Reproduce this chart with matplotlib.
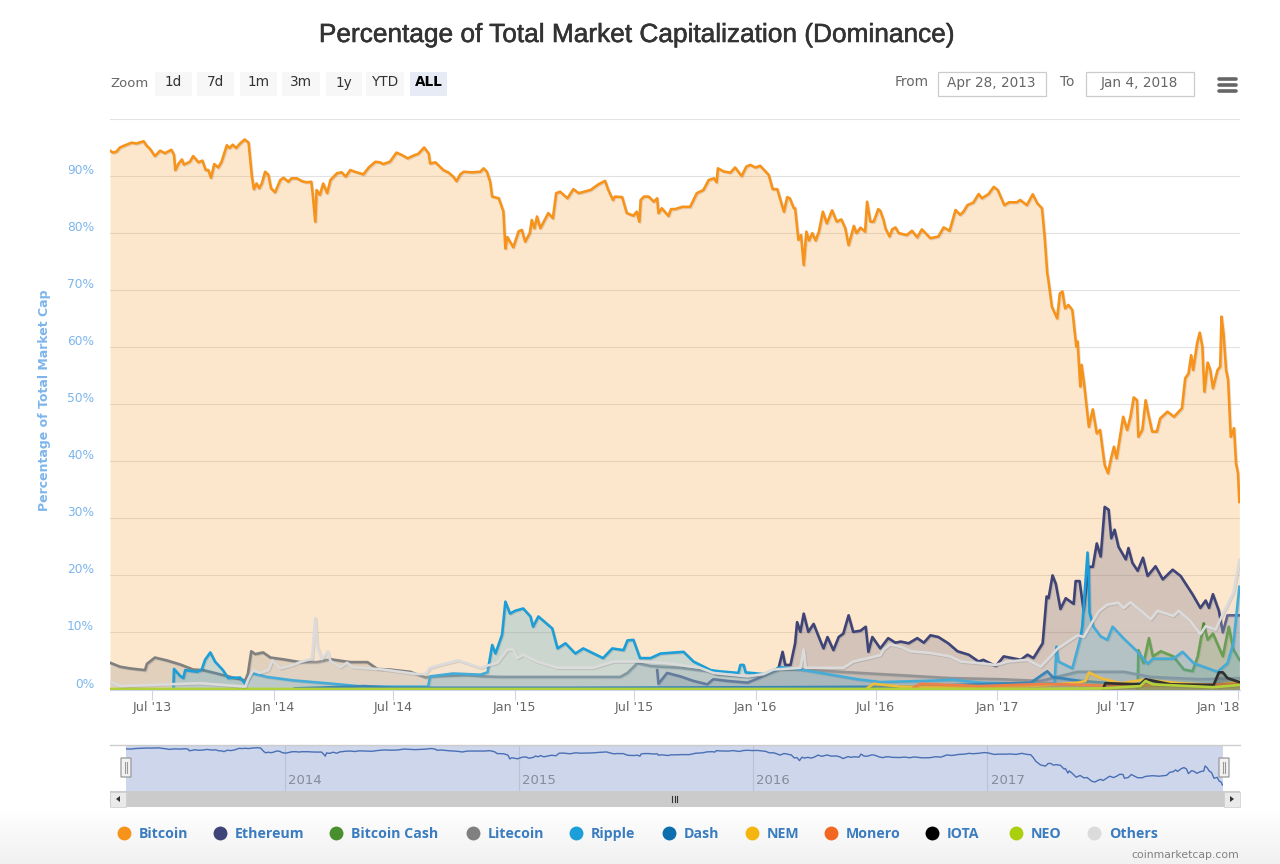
import numpy as np
import pandas as pd
import matplotlib
matplotlib.use("Agg")
import matplotlib.pyplot as plt
import matplotlib.patheffects as pe
from matplotlib.patches import FancyBboxPatch, Rectangle
from matplotlib.transforms import ScaledTranslation

# days since the first date, percent of total market cap
start = pd.Timestamp("2013-04-28")
end = pd.Timestamp("2018-01-04")

btc_days = [0,5,10,15,23,33,40,51,55,61,68,76,83,93,97,99,104,109,112,121,126,134,140,145,149,153,158,164,169,177,181,186,191,197,204,210,215,218,222,226,230,235,240,244,250,258,263,270,275,283,291,298,305,307,311,313,318,323,329,334,344,351,357,364,371,384,392,402,409,414,424,434,442,451,460,467,476,483,485,493,505,513,520,525,531,536,548,561,566,571,
            576,579,589,596,599,602,611,619,624,629,636,639,643,647,652,664,671,676,682,693,702,710,728,740,750,755,762,765,776,783,793,798,802,804,809,816,824,829,831,836,846,850,856,867,879,889,899,907,915,919,921,930,940,947,957,964,970,978,985,998,1004,1011,1021,1026,1030,1036,1038,1043,1047,1051,1055,1059,1064,1069,1074,1080,1086,1094,1101,1108,1114,1119,1127,1131,1137,1144,1147,1152,1157,1164,
            1167,1172,1175,1181,1185,1190,1195,1207,1215,1223,1230,1243,1255,1263,1272,1281,1288,1293,1299,1308,1316,1321,1331,1339,1345,1355,1362,1374,1379,1389,1398,1405,1412,1416,1420,1422,1427,1435,1439,1443,1447,1452,1458,1464,1466,1470,1472,1476,1483,1489,1495,1500,1507,1512,1516,1521,1525,1535,1541,1546,1551,1556,1558,1564,1569,1574,1579,1586,1591,1602,1612,1624,1629,1634,1638,1641,1647,1651,1655,1658,1663,1667,1671,1678,1682,1684,1687,1691,1694,1698,1703,1706,1709,1711]
btc_vals = [94.45,94.1,94.3,95,95.4,95.85,95.7,96.1,95.4,94.7,93.5,94.45,94,94.6,93.7,91.05,92.2,92.9,92,92.5,93.5,92.4,92.7,91.05,91.05,89.7,92.1,91.5,92.5,95.4,94.9,95.5,94.9,95.7,96.4,95.85,89.9,87.7,88.7,87.85,88.7,90.75,90.2,87.85,87.15,89.3,89.7,89,89.6,89.6,89.1,88.9,89,87,82,87.55,86.7,88.7,87,89.3,90.5,90.65,89.9,91.05,90.75,90.3,91.5,92.5,92.4,92.1,92.5,94.1,93.7,93.1,93.6,93.9,95,93.9,92.2,92.4,91.05,90.6,89.9,89.1,90.35,90.75,90.65,90.75,91.35,90.75,
            89,86.4,86.1,83.8,77.3,79.3,77.5,80.3,80.55,78.5,80,82.3,80.85,82.9,80.85,83.5,82.6,87,87.25,86.1,87.7,87,87.55,88.55,89.15,87.55,85.8,86.4,86.3,83.5,83.05,83.75,82,85.8,86.4,86.4,85.5,86.1,83.5,84.35,83,84.2,84.2,84.6,84.6,87,87.55,89.3,89.6,88.9,91.35,90.8,90.6,91.5,90,91.65,91.95,91.5,91.8,90.2,87.7,87.7,83.75,86.3,86.1,84.35,84.35,78.8,79.65,74.4,80.25,78.7,80,78.7,80.25,83.75,81.7,84,82,82.4,80.85,77.9,81.25,80,80.95,80.25,85.5,82,82,84.2,
            83.9,82.3,80.8,79.4,80.65,81,80,79.65,80.4,79.25,80.65,79.1,79.4,81,80.4,84.05,83.2,83.75,84.9,85.35,86.85,86.1,86.85,88.1,87.55,84.9,85.4,85.4,85.8,84.9,86.8,85.2,84.35,79.4,72.95,71.5,67.1,65.05,69.4,69.75,66.8,67.4,66.5,60.1,61,53.1,56.9,53.4,46.05,49.1,44.9,45.5,39.35,37.9,40.2,42.55,40.5,47.8,45.5,47.8,51.2,50.7,44.3,45.5,50.7,47.8,45.2,45.2,47.5,48.7,47.8,49.3,54.55,55.4,58.6,56,60.7,62.55,60.1,52.2,57.3,56,52.8,56,56.6,65.35,62.4,56,54.25,44.3,45.8,39.65,37.9,32.9]

eth_days = [829,831,844,864,884,905,914,935,966,985,1005,1013,1019,1023,1031,1038,1041,1046,1051,1058,1066,1076,1081,1087,1096,1104,1111,1119,1126,1137,1145,1149,1155,1167,1179,1190,1198,1210,1223,1233,1243,1255,1270,1284,1301,1316,1323,1342,1354,1380,1390,1399,1413,1419,1422,1428,1433,1440,1448,1460,1463,1469,1475,1483,1489,1495,1501,1507,1513,1517,1522,1528,1539,1543,1549,1557,1565,1572,1584,1595,1610,1622,1640,1652,1660,1665,1671,1680,1686,1693,1711]
eth_vals = [3.4,1,2.9,2.3,1.5,.9,1.8,1.5,1.2,2.1,3.2,3.8,6.6,4.3,4.3,8.1,11.8,10.1,13.3,10.1,11.5,8.6,7.2,9.2,6.9,9.2,9.8,13,10.1,10.3,11,6.6,9.2,7.2,9,8.2,8.4,8.1,9,8.2,9.5,9.2,8.1,6.7,6.1,4.9,5.2,4.1,5.8,5.2,6.1,5.5,8.1,16.3,16,20,18.5,14.1,16,15,19,19,13.9,21.5,21.5,25.6,23.3,32,31.5,26.5,28,25,22.8,24.8,22.2,20.8,23.1,19.9,21.6,19.3,21,19.9,16.7,14.3,15.6,14.3,16.7,13.8,10,13,13]

bch_days = [1557,1558,1566,1574,1580,1592,1611,1627,1640,1648,1657,1663,1671,1686,1695,1702,1711]
bch_vals = [0,6.9,4.6,9,5.8,6.7,5.8,3.5,3.2,5.8,11.6,8.7,9.8,5.8,11,7,5.2]

ltc_days = [0,15,30,53,56,68,86,106,126,141,162,186,205,209,214,220,232,243,262,288,314,334,364,390,405,424,455,478,490,541,565,591,662,773,784,799,819,864,905,920,966,990,1016,1046,1122,1198,1273,1349,1410,1466,1536,1577,1652,1711]
ltc_vals = [4.7,4,3.7,3.4,4.5,5.6,5.1,4.4,3.5,3.4,2.8,2.1,1.6,2.8,6.7,6.2,6.5,5.6,5.3,4.8,4.8,5.3,4.8,4.8,3.6,3.5,3.1,2.1,2.3,2.5,2.3,2.2,2.2,2.2,2.9,4.6,4.1,3.8,3.2,2.6,2.2,2.5,3.5,3.5,3,2.5,2,1.8,1.5,3.1,3.1,2.2,1.8,2]

xrp_days = [96,97,106,111,114,132,139,144,152,159,171,179,197,205,215,224,238,277,338,384,440,482,485,520,561,572,579,584,594,599,606,614,626,637,641,649,670,678,690,705,717,747,761,778,784,793,803,819,834,869,884,910,922,952,955,960,963,990,1016,1041,1087,1132,1167,1233,1278,1319,1395,1431,1434,1437,1458,1470,1473,1481,1483,1484,1490,1501,1511,1519,1536,1557,1572,1580,1611,1625,1642,1678,1693,1702,1711]
xrp_vals = [.3,3.6,2.4,2,3.4,3.1,3.5,5.2,6.5,4.9,3.4,2,2.1,1,2.8,2.6,2.2,1.6,1,.5,.5,.5,2.3,2.8,2.6,3,7.8,6.3,9.6,15.4,13.3,13.8,14.2,12.8,11,12.8,10.7,7.2,8.1,6.3,7.2,5.5,7.2,6.9,8.6,8.7,5.5,5.5,6.3,6.6,4.9,3.4,3.2,2.9,4.3,4.3,3,2.7,3.9,3.6,2.7,1.8,1.3,1.5,1.7,1.2,1,1.1,7.5,4.9,3.7,8.9,11,24,19.9,13.5,11,9.3,8.7,11,8.9,6.6,4.5,5.4,5.4,6.6,4.6,3.1,4.6,8.1,18]

dash_days = [280,370,384,430,700,1000,1200,1395,1420,1428,1470,1530,1640,1711]
dash_vals = [.2,.5,.6,.3,.3,.4,.5,1.2,3.2,2.2,1.5,1,.9,1]

nem_days = [1148,1157,1198,1349,1410,1466,1478,1483,1501,1531,1566,1622,1672,1711]
nem_vals = [.3,1,.5,.5,.7,1.2,1.5,3,2,1.1,1.7,1.1,.8,1.3]

xmr_days = [1217,1228,1319,1420,1501,1711]
xmr_vals = [.3,1,.6,1,.7,.9]

iota_days = [1505,1508,1561,1569,1607,1672,1680,1686,1693,1711]
iota_vals = [.2,1.1,.9,1.8,.9,.8,3,3,2,1.3]

neo_days = [0,1400,1505,1561,1569,1580,1672,1711]
neo_vals = [.1,.1,.2,.6,1.5,.9,.4,.8]

others_days = [0,15,86,136,171,205,209,217,227,240,246,258,277,288,306,311,314,321,330,334,349,359,368,414,465,478,485,500,528,561,587,602,611,617,626,647,678,732,763,803,844,894,914,966,990,1005,1046,1051,1054,1111,1126,1167,1172,1182,1198,1213,1243,1273,1289,1319,1342,1360,1390,1410,1420,1436,1466,1475,1490,1498,1511,1528,1536,1546,1566,1577,1587,1611,1619,1637,1652,1660,1675,1687,1702,1711]
others_vals = [1.4,.6,.9,1.1,.8,.5,1.7,3.4,2.9,3.4,5.1,3.7,4.3,4.8,5.4,12.5,7.6,5.3,6.7,5,3.9,4.7,3.9,3.5,2.7,2.7,3.8,4.3,5.1,3.8,4.7,7,7,5.5,6.1,4.9,3.8,3.8,4.9,4.9,4.6,3.8,2.9,2.3,2.7,3.5,3.8,7,3.8,3.8,4.9,6,7,7.9,7.5,6.7,6.4,5.8,4.9,4.6,4.3,4.9,5.2,4,5.2,7.2,9.5,9.2,12.2,13.7,14.9,15.2,14.3,15.3,13.4,12.3,13.8,12.9,13.8,12,9.7,11.1,10.5,13.5,17,22.7]

names = ["Bitcoin", "Ethereum", "Bitcoin Cash", "Litecoin", "Ripple", "Dash", "NEM", "Monero", "IOTA", "NEO", "Others"]
colors = ["#f7931a", "#3f4478", "#4a8f2e", "#808080", "#1c9fd8", "#0d6eae", "#f5b50f", "#f26822", "#000000", "#a9cf0e", "#dbdbdb"]
all_days = [btc_days, eth_days, bch_days, ltc_days, xrp_days, dash_days, nem_days, xmr_days, iota_days, neo_days, others_days]
all_vals = [btc_vals, eth_vals, bch_vals, ltc_vals, xrp_vals, dash_vals, nem_vals, xmr_vals, iota_vals, neo_vals, others_vals]

ytick_vals = [0, 10, 20, 30, 40, 50, 60, 70, 80, 90, 100]
xtick_dates = ["2013-07-01", "2014-01-01", "2014-07-01", "2015-01-01", "2015-07-01", "2016-01-01", "2016-07-01", "2017-01-01", "2017-07-01", "2018-01-01"]
xtick_labels = ["Jul '13", "Jan '14", "Jul '14", "Jan '15", "Jul '15", "Jan '16", "Jul '16", "Jan '17", "Jul '17", "Jan '18"]
nav_years = ["2014", "2015", "2016", "2017"]

W, H = 1280, 864
BLUE = "#7cb5ec"


def to_dates(days):
    return start + pd.to_timedelta(days, unit="D")


def px_axes(left, top, right, bottom):
    return fig.add_axes([left / W, (H - bottom) / H, (right - left) / W, (bottom - top) / H])


fig = plt.figure(figsize=(W / 100, H / 100), dpi=100, facecolor="white")

# main chart
ax = px_axes(110, 119, 1240, 689.5)
ax.set_xlim(start, end)
ax.set_ylim(0, 100)
ax.set_facecolor("white")
for s in ["top", "left", "right"]:
    ax.spines[s].set_visible(False)
ax.spines["bottom"].set_color("#ccd6eb")
ax.set_axisbelow(True)
ax.grid(axis="y", color="#e2e2e2", lw=0.8)

for i in range(len(names)):
    d = to_dates(all_days[i])
    ax.fill_between(d, 0, all_vals[i], color=colors[i], alpha=0.22, lw=0, zorder=2 + i)
    ax.plot(d, all_vals[i], color=colors[i], lw=1.9, zorder=2 + i, solid_joinstyle="round",
            path_effects=[pe.SimpleLineShadow(offset=(0.7, -0.7), alpha=0.1), pe.Normal()])

ax.set_yticks(ytick_vals)
ax.set_yticklabels([f"{v}%" if v < 100 else "" for v in ytick_vals], color=BLUE, fontsize=8.8)
ax.tick_params(axis="y", length=0, pad=11.5)
for lab in ax.get_yticklabels():
    lab.set_transform(lab.get_transform() + ScaledTranslation(0, 7 / 100, fig.dpi_scale_trans))

ax.set_xticks(pd.to_datetime(xtick_dates))
ax.set_xticklabels(xtick_labels, color="#666666", fontsize=9.2)
ax.tick_params(axis="x", length=7, width=0.8, color="#ccd6eb", pad=1)
last = ax.get_xticklabels()[-1]
last.set_ha("right")
last.set_transform(last.get_transform() + ScaledTranslation(2 / 100, 0, fig.dpi_scale_trans))

# navigator
nav = px_axes(126, 745, 1223, 791)
nav.set_facecolor("#cdd6ea")
nav.set_xlim(start, end)
nav.set_ylim(22.6, 101)
nav.plot(to_dates(btc_days), btc_vals, color="#4a6fb5", lw=1.0)
nav.set_xticks(pd.to_datetime([y + "-01-01" for y in nav_years]))
nav.set_xticklabels([])
nav.set_yticks([])
nav.tick_params(length=0)
nav.grid(axis="x", color="#b9c2d6", lw=0.8)
for s in nav.spines.values():
    s.set_visible(False)
for y in nav_years:
    nav.annotate(y, (pd.Timestamp(y + "-01-01"), 22.6), xytext=(2.5, 3), textcoords="offset points",
                 color="#858c9c", fontsize=9.5, ha="left", va="bottom")

# everything around the charts, in pixels
ui = fig.add_axes([0, 0, 1, 1], facecolor="none")
ui.set_xlim(0, W)
ui.set_ylim(H, 0)
ui.axis("off")

grad = np.linspace(1, 0, 60).reshape(-1, 1)
ui.imshow(grad, extent=(0, W, H, 808), aspect="auto", cmap=matplotlib.colors.LinearSegmentedColormap.from_list("g", ["#f1f1f1", "#ffffff"]), zorder=0)
ui.set_xlim(0, W)
ui.set_ylim(H, 0)

title = ui.text(636.5, 35, "Percentage of Total Market Capitalization (Dominance)", family="Liberation Sans",
                fontsize=18.9, color="#333333", ha="center", va="center")
title.set_path_effects([pe.withStroke(linewidth=0.4, foreground="#333333")])

ui.text(45, 400, "Percentage of Total Market Cap", rotation=90, color=BLUE, fontsize=9.0, fontweight="bold",
        ha="center", va="center")

# range selector
ui.text(110, 83.5, "Zoom", color="#666666", fontsize=9.5, va="center")
btn_labels = ["1d", "7d", "1m", "3m", "1y", "YTD", "ALL"]
btn_x = [(155, 192), (197, 234), (240, 277), (282, 320), (326, 362), (366, 404), (410, 447)]
for lab, (x0, x1) in zip(btn_labels, btn_x):
    active = lab == "ALL"
    ui.add_patch(FancyBboxPatch((x0 + 1, 73), x1 - x0 - 2, 22, boxstyle="round,pad=1", lw=0,
                                fc="#e6ebf5" if active else "#f7f7f7"))
    ui.text((x0 + x1) / 2, 82.5, lab, color="#000000" if active else "#333333", fontsize=9.8,
            fontweight="bold" if active else "normal", ha="center", va="center")

ui.text(895, 82, "From", color="#666666", fontsize=9.8, va="center")
ui.text(1060, 82, "To", color="#666666", fontsize=9.8, va="center")
for x0, x1, lab in [(938, 1046, "Apr 28, 2013"), (1086, 1194, "Jan 4, 2018")]:
    ui.add_patch(Rectangle((x0, 71.5), x1 - x0, 24.5, fc="white", ec="#cccccc", lw=0.9))
    ui.text((x0 + x1) / 2 - 1, 82.5, lab, color="#666666", fontsize=9.8, ha="center", va="center")
for y in [78.5, 85, 91]:
    ui.plot([1219, 1236], [y, y], color="#666666", lw=2.6, solid_capstyle="round")

# navigator frame and scrollbar
ui.plot([110, 1240], [745, 745], color="#cccccc", lw=1)
ui.add_patch(Rectangle((110, 791), 1130, 16, fc="#cbcbcb", lw=0))
for x0 in [110, 1224]:
    ui.add_patch(Rectangle((x0, 791.5), 16, 15, fc="#eaeaea", ec="#cccccc", lw=0.5))
ui.fill([120, 120, 116], [796, 802, 799], color="#333333", lw=0)
ui.fill([1230, 1230, 1234], [796, 802, 799], color="#333333", lw=0)
for x in [672, 674.5, 677]:
    ui.plot([x, x], [796, 802], color="#333333", lw=0.8)
for x0 in [121, 1219]:
    ui.add_patch(FancyBboxPatch((x0 + 0.5, 758.5), 9, 18, boxstyle="round,pad=0.5", fc="#f2f2f2", ec="#999999", lw=0.9, zorder=5))
    for off in [3.8, 6.2]:
        ui.plot([x0 + off, x0 + off], [762, 773], color="#999999", lw=0.8, zorder=6)

# legend
dot_x = [124, 220, 336, 473, 576, 669, 752, 831, 932, 1016, 1094]
for x, name, col in zip(dot_x, names, colors):
    ui.scatter([x], [833], s=100, color=col, lw=0)
    ui.text(x + 15, 838, name, color="#3a7cbf", family="Open Sans", fontweight="bold", fontsize=10.2, va="baseline")

ui.text(1239, 855, "coinmarketcap.com", color="#808080", fontsize=7.8, ha="right", va="center")

fig.savefig("out.png", dpi=100)
